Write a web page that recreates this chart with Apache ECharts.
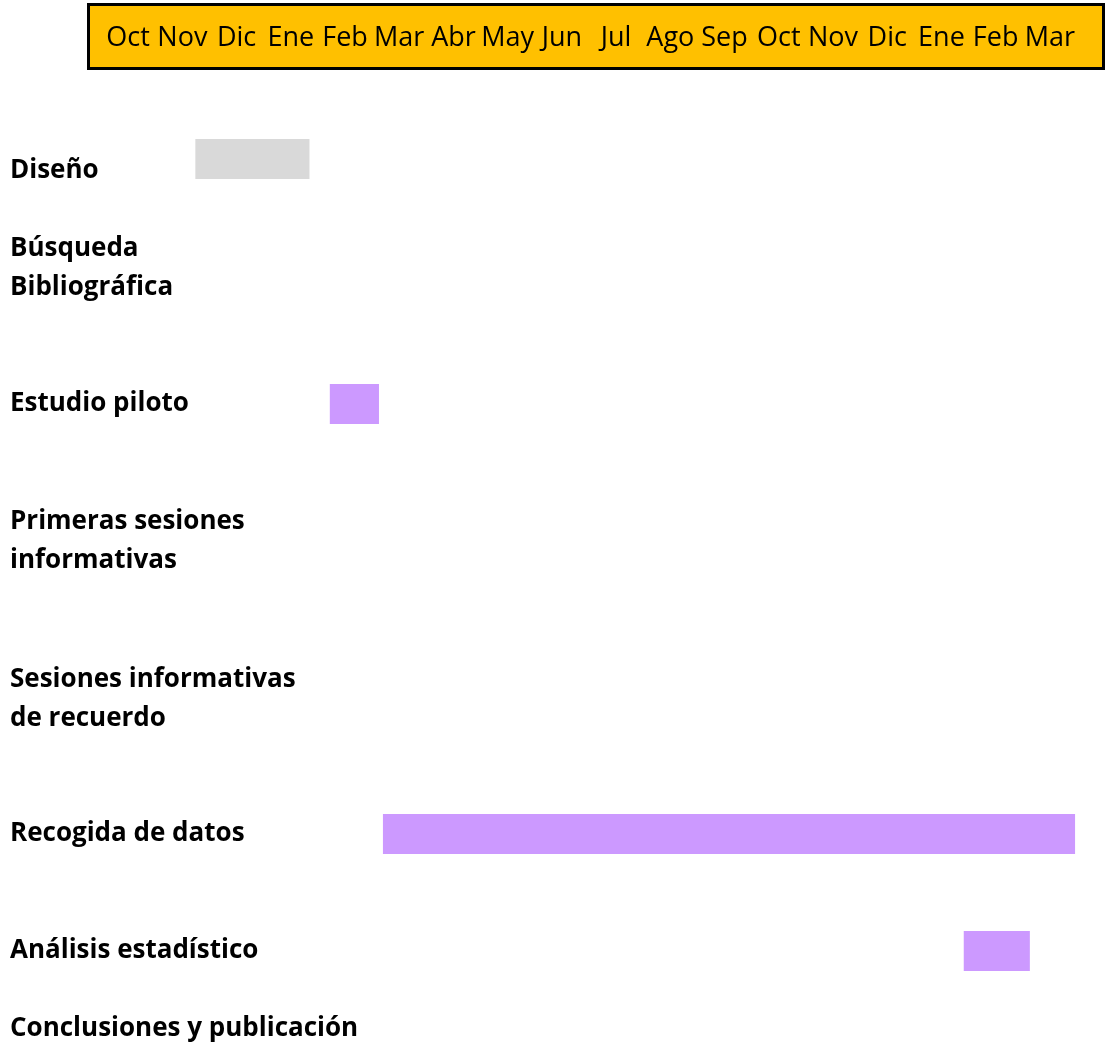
<!DOCTYPE html>
<html><head><meta charset="utf-8">
<script src="https://cdn.jsdelivr.net/npm/echarts@6/dist/echarts.min.js"></script>
<style>html,body{margin:0;padding:0;background:#fff}#c{width:1106px;height:1045px}</style>
</head><body><div id="c"></div>
<script>
// ---- data ----
const months = ['Oct','Nov','Dic','Ene','Feb','Mar','Abr','May','Jun','Jul','Ago','Sep','Oct','Nov','Dic','Ene','Feb','Mar'];
const tasks = ['Diseño','Búsqueda\nBibliográfica','Estudio piloto','Primeras sesiones\ninformativas','Sesiones informativas\nde recuerdo','Recogida de datos','Análisis estadístico','Conclusiones y publicación'];
// months from start of first Oct
const startMonth = [1.9, null, 4.28, null, null, 5.22, 15.5, null];
const durationMonths = [2.02, null, 0.87, null, null, 12.25, 1.17, null];

// ---- layout / style ----
const rowCenters = [159, 268, 404, 541, 699, 834, 951, 1035];
const taskColor = ['#D9D9D9', '#CC99FF', '#CC99FF', '#CC99FF', '#CC99FF', '#CC99FF', '#CC99FF', '#CC99FF'];
const FONT = '"Open Sans", sans-serif';

const grid = [], xAxis = [], yAxis = [], series = [];
tasks.forEach((t, i) => {
  const h = durationMonths[i] == null ? 16 : 40;
  grid.push({left: 88, right: 1, top: rowCenters[i] - h / 2, height: h});
  xAxis.push({gridIndex: i, type: 'value', min: 0, max: 18, show: false});
  yAxis.push({
    gridIndex: i, type: 'category', data: [t],
    axisLine: {show: false}, axisTick: {show: false}, splitLine: {show: false},
    axisLabel: {align: 'left', margin: 78, fontFamily: FONT, fontWeight: 'bold', fontSize: 26,
      color: '#000', lineHeight: i === 0 ? 24 : 39, verticalAlign: i === 0 ? 'top' : 'middle'}
  });
  series.push({type: 'bar', xAxisIndex: i, yAxisIndex: i, stack: 's' + i, barWidth: 40, silent: true,
    itemStyle: {color: 'rgba(0,0,0,0)'}, data: [startMonth[i]]});
  series.push({type: 'bar', xAxisIndex: i, yAxisIndex: i, stack: 's' + i, barWidth: 40, silent: true,
    itemStyle: {color: taskColor[i]}, data: [durationMonths[i]]});
});
// header month axis
const hi = tasks.length;
grid.push({left: 101, right: 29, top: 37, height: 1});
xAxis.push({gridIndex: hi, type: 'category', data: months, position: 'bottom',
  axisLine: {show: false}, axisTick: {show: false}, splitLine: {show: false},
  axisLabel: {interval: 0, margin: 0, verticalAlign: 'middle', fontFamily: FONT, fontSize: 27, color: '#000'}});
yAxis.push({gridIndex: hi, type: 'value', show: false});

const chart = echarts.init(document.getElementById('c'), null, {renderer: 'canvas'});
chart.setOption({
  animation: false,
  grid, xAxis, yAxis, series,
  graphic: [{type: 'rect', z: -10, shape: {x: 88.5, y: 4.5, width: 1015, height: 64},
    style: {fill: '#FFC000', stroke: '#000', lineWidth: 3}}]
});
</script></body></html>
